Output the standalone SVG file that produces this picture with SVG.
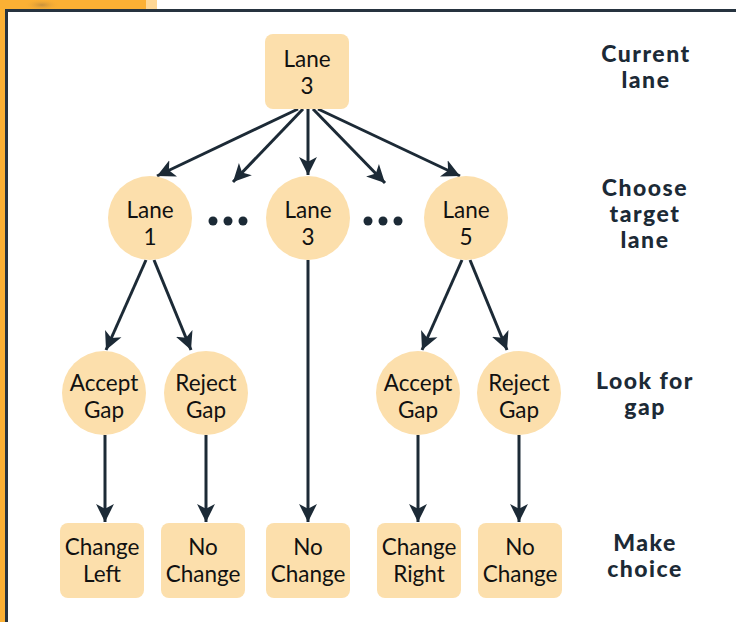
<svg xmlns="http://www.w3.org/2000/svg" width="736" height="622" viewBox="0 0 736 622">
<defs>
<marker id="ah" markerUnits="userSpaceOnUse" markerWidth="20" markerHeight="20" viewBox="-17 -9 19 18" refX="0" refY="0" orient="auto">
<path d="M0,0 L-17,-8.5 L-12.5,0 L-17,8.5 Z" fill="#1c2a36"/>
</marker>
<radialGradient id="sh" cx="0.5" cy="0.5" r="0.5">
<stop offset="0" stop-color="#c8913c"/>
<stop offset="1" stop-color="#fbb034" stop-opacity="0"/>
</radialGradient>
</defs>
<style>
.n{fill:#fcdfac}
.t{font-family:"Lato","Open Sans",sans-serif;font-size:22.5px;fill:#111;text-anchor:middle}
.h{font-family:"Lato","Open Sans",sans-serif;font-size:23px;font-weight:900;letter-spacing:1.5px;fill:#1c2a36;text-anchor:middle}
.c line{stroke:#1c2a36;stroke-width:3;marker-end:url(#ah)}
</style>
<rect width="736" height="622" fill="#fff"/>
<rect x="0" y="0" width="6" height="622" fill="#fbb034"/>
<rect x="0" y="0" width="146" height="10" fill="#fbb034"/>
<ellipse cx="42" cy="5" rx="18" ry="6" fill="url(#sh)"/>
<rect x="146" y="0" width="11" height="10" fill="#fed795"/>
<rect x="5" y="9" width="731" height="3" fill="#26333f"/>
<rect x="5" y="9" width="3" height="613" fill="#26333f"/>

<g class="c" id="connectors">
<line x1="298" y1="109" x2="157" y2="176"/>
<line x1="303" y1="109" x2="233" y2="182"/>
<line x1="308" y1="109" x2="308" y2="175"/>
<line x1="313" y1="109" x2="385" y2="183"/>
<line x1="318" y1="109" x2="460" y2="176"/>
<line x1="146" y1="260" x2="106" y2="350"/>
<line x1="154" y1="260" x2="191" y2="350"/>
<line x1="308" y1="260" x2="308" y2="522"/>
<line x1="462" y1="260" x2="422" y2="350"/>
<line x1="470" y1="260" x2="507" y2="350"/>
<line x1="105" y1="435" x2="105" y2="522"/>
<line x1="206" y1="435" x2="206" y2="522"/>
<line x1="418" y1="435" x2="418" y2="522"/>
<line x1="519" y1="435" x2="519" y2="522"/>
</g>

<g id="dots1" fill="#1c2a36"><circle cx="213" cy="221" r="4.5"/><circle cx="228" cy="221" r="4.5"/><circle cx="243" cy="221" r="4.5"/></g>
<g id="dots2" fill="#1c2a36"><circle cx="368" cy="221" r="4.5"/><circle cx="383" cy="221" r="4.5"/><circle cx="398" cy="221" r="4.5"/></g>

<g id="current"><rect class="n" x="265" y="34" width="84" height="75" rx="8"/><text class="t" x="307" y="67">Lane</text><text class="t" x="307" y="94">3</text></g>

<g id="lane1"><circle class="n" cx="150" cy="218" r="42"/><text class="t" x="150" y="218">Lane</text><text class="t" x="150" y="245">1</text></g>
<g id="lane3"><circle class="n" cx="308" cy="218" r="42"/><text class="t" x="308" y="218">Lane</text><text class="t" x="308" y="245">3</text></g>
<g id="lane5"><circle class="n" cx="466" cy="218" r="42"/><text class="t" x="466" y="218">Lane</text><text class="t" x="466" y="245">5</text></g>

<g id="acceptL"><circle class="n" cx="104" cy="393" r="42"/><text class="t" x="104" y="391">Accept</text><text class="t" x="104" y="418">Gap</text></g>
<g id="rejectL"><circle class="n" cx="206" cy="393" r="42"/><text class="t" x="206" y="391">Reject</text><text class="t" x="206" y="418">Gap</text></g>
<g id="acceptR"><circle class="n" cx="418" cy="393" r="42"/><text class="t" x="418" y="391">Accept</text><text class="t" x="418" y="418">Gap</text></g>
<g id="rejectR"><circle class="n" cx="519" cy="393" r="42"/><text class="t" x="519" y="391">Reject</text><text class="t" x="519" y="418">Gap</text></g>

<g id="changeLeft"><rect class="n" x="60" y="523" width="84" height="75" rx="8"/><text class="t" x="102" y="555">Change</text><text class="t" x="102" y="582">Left</text></g>
<g id="noChange1"><rect class="n" x="161" y="523" width="84" height="75" rx="8"/><text class="t" x="203" y="555">No</text><text class="t" x="203" y="582">Change</text></g>
<g id="noChange2"><rect class="n" x="266" y="523" width="84" height="75" rx="8"/><text class="t" x="308" y="555">No</text><text class="t" x="308" y="582">Change</text></g>
<g id="changeRight"><rect class="n" x="377" y="523" width="84" height="75" rx="8"/><text class="t" x="419" y="555">Change</text><text class="t" x="419" y="582">Right</text></g>
<g id="noChange3"><rect class="n" x="478" y="523" width="84" height="75" rx="8"/><text class="t" x="520" y="555">No</text><text class="t" x="520" y="582">Change</text></g>

<g id="labels">
<text class="h" x="646" y="62">Current</text><text class="h" x="646" y="88">lane</text>
<text class="h" x="645" y="196">Choose</text><text class="h" x="645" y="222">target</text><text class="h" x="645" y="248">lane</text>
<text class="h" x="645" y="389">Look for</text><text class="h" x="645" y="415">gap</text>
<text class="h" x="645" y="551">Make</text><text class="h" x="645" y="577">choice</text>
</g>
</svg>
